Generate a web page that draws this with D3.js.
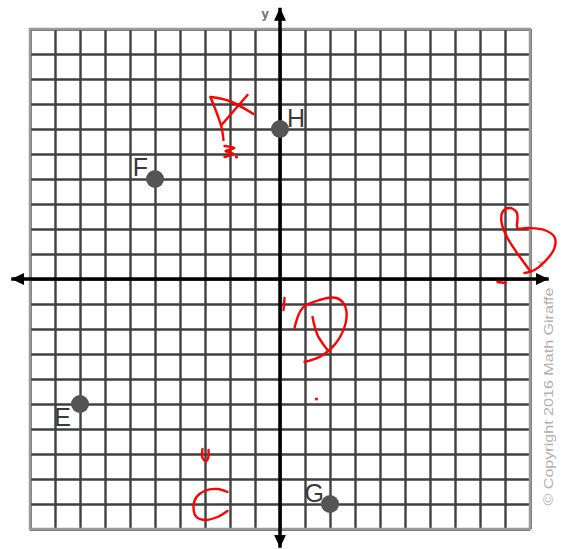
<!DOCTYPE html>
<html>
<head>
<meta charset="utf-8">
<script src="https://cdn.jsdelivr.net/npm/d3@7"></script>
<style>
  html, body { margin: 0; padding: 0; background: #fff; }
  svg { display: block; }
  .grid line { stroke: #404040; stroke-width: 2.4; }
  .grid .domain { display: none; }
  .label { font-family: "Liberation Sans", Arial, sans-serif; fill: #3a3a3a; }
  .ink { fill: none; stroke: #f00; stroke-width: 2.4; stroke-linecap: round; stroke-linejoin: round; }
</style>
</head>
<body>
<div id="chart"></div>
<script>
// plotted points
const pointNames = ["H", "F", "E", "G"];
const pointX = [0, -5, -8, 2];
const pointY = [6, 4, -5, -9];

// grid ticks (one unit per square)
const gridTicks = d3.range(-10, 11);
const axisLabels = ["x", "y"];
const copyright = "\u00a9 Copyright 2016 Math Giraffe";

// hand-written red marks, in graph units
const markA = [
  [[-2.78, 7.28], [-2.5, 6.56], [-2.34, 6.08], [-2.26, 5.56]],
  [[-2.78, 7.28], [-2.02, 7.12], [-1.06, 6.6]],
  [[-2.34, 6.16], [-1.3, 7.36]],
  [[-2.22, 5.32], [-1.82, 5.24], [-2.18, 5.12], [-1.86, 5.0], [-2.22, 4.88]]
];
const markB = [
  [[9.98, 0.36], [9.1, 1.64], [8.86, 2.28], [8.9, 2.68], [9.18, 2.84], [9.46, 2.68], [9.5, 2.44], [9.5, 2.04],
   [9.9, 2.04], [10.58, 1.96], [10.98, 1.68], [10.98, 1.24], [10.58, 0.68], [10.18, 0.36], [9.78, 0.24]],
  [[8.7, -0.12], [9.02, -0.16]]
];
const markC = [
  [[-3.1, -6.8], [-3.1, -7.16], [-2.94, -7.28], [-2.86, -7.08], [-2.86, -6.84]],
  [[-2.1, -8.52], [-2.5, -8.4], [-3.02, -8.48], [-3.34, -8.72], [-3.46, -9.12], [-3.34, -9.52],
   [-3.02, -9.64], [-2.5, -9.52], [-2.1, -9.28]]
];
const markD = [
  [[0.18, -0.76], [0.14, -1.24]],
  [[1.3, -1.52], [1.5, -2.24], [1.9, -2.84]],
  [[0.58, -1.96], [0.9, -1.16], [1.58, -0.84], [2.26, -0.76], [2.58, -1.04], [2.66, -1.56], [2.38, -2.36],
   [1.98, -2.84], [1.58, -3.12], [0.98, -3.32]]
];
const inkDots = [[-1.74, 4.88], [1.46, -4.8]];

const width = 563;
const height = 549;

const x = d3.scaleLinear().domain([-10, 10]).range([30, 530]);
const y = d3.scaleLinear().domain([-10, 10]).range([529, 29]);

const svg = d3.select('#chart')
  .append('svg')
  .attr('width', width)
  .attr('height', height);

// grid
svg.append('g')
  .attr('class', 'grid')
  .attr('transform', `translate(0,${y(-10)})`)
  .call(d3.axisBottom(x).tickValues(gridTicks).tickSize(-(y(-10) - y(10))).tickFormat(''));

svg.append('g')
  .attr('class', 'grid')
  .attr('transform', `translate(${x(-10)},0)`)
  .call(d3.axisLeft(y).tickValues(gridTicks).tickSize(-(x(10) - x(-10))).tickFormat(''));

// lighter outer border
svg.append('rect')
  .attr('x', x(-10))
  .attr('y', y(10))
  .attr('width', x(10) - x(-10))
  .attr('height', y(-10) - y(10))
  .attr('fill', 'none')
  .attr('stroke', '#9a9a9a')
  .attr('stroke-width', 2.5);

// axes with arrow heads
const defs = svg.append('defs');
defs.append('marker')
  .attr('id', 'arrow')
  .attr('markerUnits', 'userSpaceOnUse')
  .attr('markerWidth', 14)
  .attr('markerHeight', 14)
  .attr('refX', 13)
  .attr('refY', 6)
  .attr('orient', 'auto-start-reverse')
  .append('path')
  .attr('d', 'M0,0 L13,6 L0,12 Z')
  .attr('fill', '#000');

const ext = 10.75;
svg.append('line')
  .attr('x1', x(-ext)).attr('x2', x(ext))
  .attr('y1', y(0)).attr('y2', y(0))
  .attr('stroke', '#000').attr('stroke-width', 3.5)
  .attr('marker-start', 'url(#arrow)')
  .attr('marker-end', 'url(#arrow)');

svg.append('line')
  .attr('x1', x(0)).attr('x2', x(0))
  .attr('y1', y(-ext)).attr('y2', y(10.85))
  .attr('stroke', '#000').attr('stroke-width', 3.5)
  .attr('marker-start', 'url(#arrow)')
  .attr('marker-end', 'url(#arrow)');

svg.append('text')
  .attr('x', x(10.3)).attr('y', y(0.5))
  .attr('font-family', 'DejaVu Sans, sans-serif')
  .attr('font-size', 11)
  .attr('fill', '#888')
  .text(axisLabels[0]);

svg.append('text')
  .attr('x', x(-0.75)).attr('y', y(10.45))
  .attr('font-family', 'DejaVu Sans, sans-serif')
  .attr('font-size', 12)
  .attr('font-weight', 'bold')
  .attr('fill', '#777')
  .text(axisLabels[1]);

// points
const labelOffsets = [
  { dx: 7, dy: -2, anchor: 'start' },
  { dx: -7, dy: -3, anchor: 'end' },
  { dx: -9, dy: 22, anchor: 'end' },
  { dx: -6, dy: -2, anchor: 'end' }
];

const pts = pointNames.map((name, i) => ({ name, x: pointX[i], y: pointY[i], off: labelOffsets[i] }));

svg.append('g')
  .selectAll('circle')
  .data(pts)
  .join('circle')
  .attr('cx', d => x(d.x))
  .attr('cy', d => y(d.y))
  .attr('r', 9)
  .attr('fill', '#545454');

svg.append('g')
  .selectAll('text')
  .data(pts)
  .join('text')
  .attr('class', 'label')
  .attr('x', d => x(d.x) + d.off.dx)
  .attr('y', d => y(d.y) + d.off.dy)
  .attr('text-anchor', d => d.off.anchor)
  .attr('font-size', 25)
  .text(d => d.name);

// red handwriting
const pen = d3.line()
  .x(d => x(d[0]))
  .y(d => y(d[1]))
  .curve(d3.curveCatmullRom.alpha(0.5));

const strokes = [...markA, ...markB, ...markC, ...markD];
svg.append('g')
  .selectAll('path')
  .data(strokes)
  .join('path')
  .attr('class', 'ink')
  .attr('d', pen);

svg.append('g')
  .selectAll('circle')
  .data(inkDots)
  .join('circle')
  .attr('cx', d => x(d[0]))
  .attr('cy', d => y(d[1]))
  .attr('r', 1.6)
  .attr('fill', '#f00');

// copyright
svg.append('text')
  .attr('transform', `translate(${x(10) + 23},${y(-4.7)}) rotate(-90)`)
  .attr('text-anchor', 'middle')
  .attr('font-family', 'Liberation Sans, Arial, sans-serif')
  .attr('font-size', 13.5)
  .attr('fill', '#b0b0b0')
  .attr('textLength', 218)
  .attr('lengthAdjust', 'spacingAndGlyphs')
  .text(copyright);
</script>
</body>
</html>
